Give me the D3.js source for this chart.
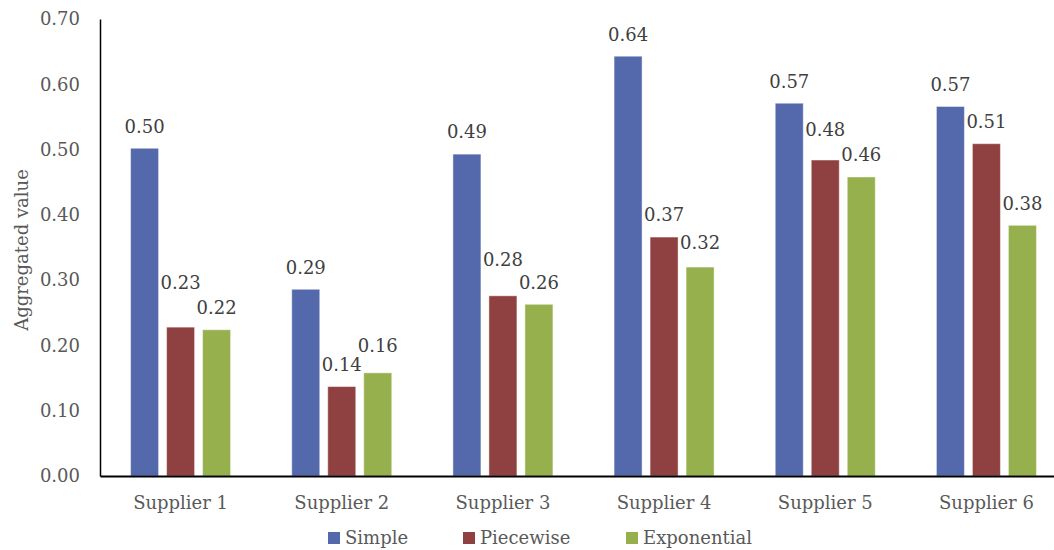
<!DOCTYPE html>
<html><head><meta charset="utf-8">
<script src="https://cdn.jsdelivr.net/npm/d3@7"></script>
<style>html,body{margin:0;padding:0;background:#fff;}svg{display:block;}</style>
</head><body>
<svg id="c" width="1054" height="550"></svg>
<script>
const categories = ["Supplier 1","Supplier 2","Supplier 3","Supplier 4","Supplier 5","Supplier 6"];
const seriesNames = ["Simple","Piecewise","Exponential"];
const simple = [0.502, 0.286, 0.493, 0.643, 0.571, 0.566];
const piecewise = [0.228, 0.137, 0.276, 0.366, 0.484, 0.509];
const exponential = [0.224, 0.158, 0.263, 0.320, 0.458, 0.384];
const yTicks = [0, 0.1, 0.2, 0.3, 0.4, 0.5, 0.6, 0.7];
const colors = ["#5469AC", "#8F4040", "#95B04C"];
// layout: extra upward lift (px) applied to crowded labels, per series per category
const labelLift = [[0,0,0,0,0,0],[22,0,14,0,8,0],[0,5,0,2,0,0]];

const series = [simple, piecewise, exponential];
const FONT = "'DejaVu Serif', serif";
const FS = 18;
const svg = d3.select("#c");
const m = {left:100, top:19, bottom:476, right:1067};

const x0 = d3.scaleBand().domain(categories).range([m.left, m.right]).paddingInner(0).paddingOuter(0);
const y = d3.scaleLinear().domain([0, 0.7]).range([m.bottom, m.top]);
const groupW = 100;
const x1 = d3.scaleBand().domain(seriesNames)
  .range([x0.bandwidth()/2 - groupW/2, x0.bandwidth()/2 + groupW/2]).paddingInner(0.2222).paddingOuter(0);

const rows = [];
categories.forEach((c, i) => seriesNames.forEach((s, j) => rows.push({c, s, i, j, v: series[j][i]})));

svg.append("g").selectAll("rect").data(rows).join("rect")
  .attr("x", d => x0(d.c) + x1(d.s))
  .attr("y", d => y(d.v))
  .attr("width", x1.bandwidth())
  .attr("height", d => y(0) - y(d.v))
  .attr("fill", d => colors[d.j])
  .attr("stroke", "rgba(255,255,255,0.45)")
  .attr("stroke-width", 1);

svg.append("g").selectAll("text").data(rows).join("text")
  .attr("x", d => x0(d.c) + x1(d.s) + x1.bandwidth()/2)
  .attr("y", d => y(d.v) - 22 - labelLift[d.j][d.i])
  .attr("dy", "0.35em")
  .attr("text-anchor", "middle")
  .attr("font-family", FONT).attr("font-size", FS).attr("fill", "#404040")
  .text(d => d.v.toFixed(2));

// y axis
const yAxis = svg.append("g").attr("transform", `translate(${m.left},0)`)
  .call(d3.axisLeft(y).tickValues(yTicks).tickFormat(d3.format(".2f")).tickSize(0).tickPadding(20));
yAxis.select(".domain").attr("stroke", "#000").attr("stroke-width", 1.5);
yAxis.selectAll("text").attr("font-family", FONT).attr("font-size", FS).attr("fill", "#595959");

// x axis
const xAxis = svg.append("g").attr("transform", `translate(0,${m.bottom})`)
  .call(d3.axisBottom(x0).tickSize(0).tickPadding(20));
xAxis.select(".domain").attr("stroke", "#000").attr("stroke-width", 2);
xAxis.selectAll("text").attr("font-family", FONT).attr("font-size", FS).attr("fill", "#595959");

// y title
svg.append("text")
  .attr("transform", `translate(22,250) rotate(-90)`)
  .attr("dy", "0.35em")
  .attr("text-anchor", "middle")
  .attr("font-family", FONT).attr("font-size", FS).attr("fill", "#595959")
  .text("Aggregated value");

// legend
const legendX = [328, 463, 626];
const lg = svg.append("g").selectAll("g").data(seriesNames).join("g")
  .attr("transform", (d, i) => `translate(${legendX[i]},532)`);
lg.append("rect").attr("width", 12).attr("height", 12).attr("fill", (d, i) => colors[i]);
lg.append("text").attr("x", 17).attr("y", 6).attr("dy", "0.35em")
  .attr("font-family", FONT).attr("font-size", FS).attr("fill", "#595959")
  .text(d => d);
</script>
</body></html>
